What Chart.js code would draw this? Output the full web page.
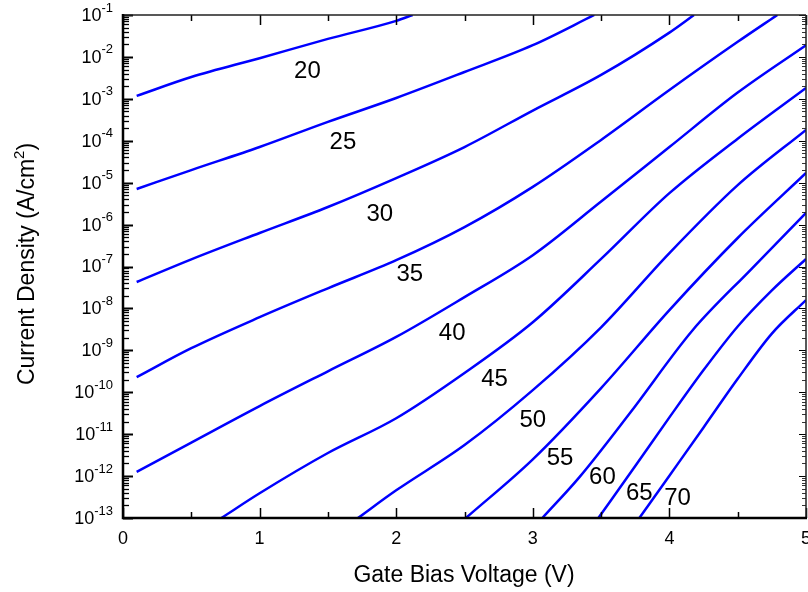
<!DOCTYPE html>
<html>
<head>
<meta charset="utf-8">
<script src="https://cdn.jsdelivr.net/npm/chart.js@4.4.1/dist/chart.umd.min.js"></script>
<style>
  body { margin: 0; background: #fff; }
  #wrap { width: 808px; height: 592px; }
</style>
</head>
<body>
<div id="wrap"><canvas id="chart" width="808" height="592"></canvas></div>
<script>
// gate bias (V) and log10 of current density (A/cm2), one pair per curve
const v20 = [0.1, 0.5, 1.0, 1.5, 2.0, 2.12];
const j20 = [-2.93, -2.48, -2.03, -1.57, -1.14, -1];
const v25 = [0.1, 0.5, 1.0, 1.5, 2.0, 2.5, 3.0, 3.45];
const j25 = [-5.15, -4.70, -4.15, -3.55, -2.98, -2.36, -1.72, -1];
const v30 = [0.1, 0.5, 1.0, 1.5, 2.0, 2.5, 3.0, 3.5, 4.0, 4.18];
const j30 = [-7.37, -6.83, -6.20, -5.58, -4.89, -4.15, -3.28, -2.43, -1.42, -1];
const v35 = [0.1, 0.5, 1.0, 1.5, 2.0, 2.5, 3.0, 3.5, 4.0, 4.5, 4.79];
const j35 = [-9.64, -8.95, -8.21, -7.52, -6.85, -6.06, -5.10, -3.98, -2.79, -1.64, -1];
const v40 = [0.1, 0.5, 1.0, 1.5, 2.0, 2.5, 3.0, 3.5, 4.0, 4.5, 5.0];
const j40 = [-11.9, -11.2, -10.33, -9.50, -8.68, -7.73, -6.73, -5.45, -4.15, -2.85, -1.72];
const v45 = [0.72, 1.0, 1.5, 2.0, 2.5, 3.0, 3.5, 4.0, 4.5, 5.0];
const j45 = [-13, -12.41, -11.45, -10.62, -9.54, -8.33, -6.82, -5.25, -3.95, -2.74];
const v50 = [1.72, 2.0, 2.5, 3.0, 3.5, 4.0, 4.5, 5.0];
const j50 = [-13, -12.34, -11.26, -9.95, -8.45, -6.68, -5.06, -3.74];
const v55 = [2.51, 3.0, 3.5, 4.0, 4.5, 5.0];
const j55 = [-13, -11.6, -9.9, -8.04, -6.32, -4.77];
const v60 = [3.07, 3.34, 3.71, 4.17, 4.6, 5.0];
const j60 = [-13, -12.03, -10.50, -8.52, -7.06, -5.72];
const v65 = [3.48, 3.75, 4.0, 4.25, 4.5, 4.75, 5.0];
const j65 = [-13, -11.76, -10.6, -9.47, -8.43, -7.57, -6.82];
const v70 = [3.78, 4.0, 4.25, 4.5, 4.75, 5.0];
const j70 = [-13, -11.99, -10.84, -9.68, -8.6, -7.80];

const curves = [
    [v20, j20], [v25, j25], [v30, j30], [v35, j35], [v40, j40], [v45, j45],
    [v50, j50], [v55, j55], [v60, j60], [v65, j65], [v70, j70]
];

// curve labels (V, log10 J)
const labelText = ['20', '25', '30', '35', '40', '45', '50', '55', '60', '65', '70'];
const labelV = [1.35, 1.61, 1.88, 2.10, 2.41, 2.72, 3.00, 3.20, 3.51, 3.78, 4.06];
const labelJ = [-2.31, -4.01, -5.73, -7.16, -8.57, -9.66, -10.64, -11.55, -12.00, -12.38, -12.50];

const xTicks = [0, 1, 2, 3, 4, 5];
const yDecades = [-13, -12, -11, -10, -9, -8, -7, -6, -5, -4, -3, -2, -1];

const FONT = '"Liberation Sans", Arial, Helvetica, sans-serif';

const datasets = curves.map(([v, j]) => ({
    data: v.map((x, i) => ({ x: x, y: Math.pow(10, j[i]) })),
    borderColor: '#0000ff',
    borderWidth: 2.5,
    pointRadius: 0,
    fill: false,
    cubicInterpolationMode: 'monotone'
}));

// frame, inside ticks, tick labels, titles and curve labels
const decorations = {
    id: 'decorations',
    afterDraw(chart) {
        const ctx = chart.ctx;
        const xs = chart.scales.x, ys = chart.scales.y;
        const a = chart.chartArea;
        ctx.save();
        ctx.strokeStyle = '#000';
        ctx.lineCap = 'butt';

        // x ticks every 0.5 V, top and bottom, pointing in
        for (let k = 0; k <= 10; k++) {
            const v = k / 2;
            const px = Math.round(xs.getPixelForValue(v)) + 0.5;
            const len = k % 2 === 0 ? 10 : 6;
            ctx.lineWidth = 1.5;
            ctx.beginPath();
            ctx.moveTo(px, a.bottom); ctx.lineTo(px, a.bottom - len);
            ctx.moveTo(px, a.top); ctx.lineTo(px, a.top + len);
            ctx.stroke();
        }

        // y ticks, decades and minor
        yDecades.forEach(d => {
            const py = Math.round(ys.getPixelForValue(Math.pow(10, d))) + 0.5;
            ctx.lineWidth = 2;
            ctx.beginPath();
            ctx.moveTo(a.left, py); ctx.lineTo(a.left + 10, py);
            ctx.stroke();
            ctx.lineWidth = 1;
            ctx.beginPath();
            ctx.moveTo(a.right, py); ctx.lineTo(a.right - 7, py);
            ctx.stroke();
            if (d < -1) {
                for (let m = 2; m <= 9; m++) {
                    const pm = Math.round(ys.getPixelForValue(m * Math.pow(10, d))) + 0.5;
                    ctx.lineWidth = 1.3;
                    ctx.beginPath();
                    ctx.moveTo(a.left, pm); ctx.lineTo(a.left + 6, pm);
                    ctx.stroke();
                    ctx.lineWidth = 0.8;
                    ctx.beginPath();
                    ctx.moveTo(a.right, pm); ctx.lineTo(a.right - 4, pm);
                    ctx.stroke();
                }
            }
        });

        // frame
        ctx.lineWidth = 1.5;
        ctx.strokeStyle = '#222';
        ctx.beginPath();
        ctx.moveTo(a.left, a.top); ctx.lineTo(a.right, a.top);
        ctx.moveTo(a.right, a.top); ctx.lineTo(a.right, a.bottom);
        ctx.stroke();
        ctx.strokeStyle = '#000';
        ctx.lineWidth = 2.5;
        ctx.beginPath();
        ctx.moveTo(a.left, a.top - 1); ctx.lineTo(a.left, a.bottom);
        ctx.lineTo(a.right + 1, a.bottom);
        ctx.stroke();

        ctx.fillStyle = '#000';

        // x tick labels
        ctx.font = '18px ' + FONT;
        ctx.textAlign = 'center';
        ctx.textBaseline = 'middle';
        xTicks.forEach(v => {
            ctx.fillText(String(v), xs.getPixelForValue(v), 539);
        });

        // y tick labels as 10^d
        yDecades.forEach(d => {
            const py = ys.getPixelForValue(Math.pow(10, d));
            const exp = String(d);
            ctx.font = '18px ' + FONT;
            const wb = ctx.measureText('10').width;
            ctx.font = '13px ' + FONT;
            const we = ctx.measureText(exp).width;
            const x0 = 113 - wb - we;
            ctx.textAlign = 'left';
            ctx.textBaseline = 'middle';
            ctx.font = '18px ' + FONT;
            ctx.fillText('10', x0, py + 1);
            ctx.font = '13px ' + FONT;
            ctx.fillText(exp, x0 + wb, py - 7);
        });

        // x title
        ctx.font = '23px ' + FONT;
        ctx.textAlign = 'center';
        ctx.textBaseline = 'alphabetic';
        ctx.fillText('Gate Bias Voltage (V)', 464, 582);

        // y title with superscript
        const t1 = 'Current Density (A/cm', t2 = '2', t3 = ')';
        ctx.font = '23px ' + FONT;
        const w1 = ctx.measureText(t1).width, w3 = ctx.measureText(t3).width;
        ctx.font = '15px ' + FONT;
        const w2 = ctx.measureText(t2).width;
        const total = w1 + w2 + w3;
        ctx.save();
        ctx.translate(34, 264);
        ctx.rotate(-Math.PI / 2);
        ctx.textAlign = 'left';
        let sx = -total / 2;
        ctx.font = '23px ' + FONT;
        ctx.fillText(t1, sx, 0);
        sx += w1;
        ctx.font = '15px ' + FONT;
        ctx.fillText(t2, sx, -10);
        sx += w2;
        ctx.font = '23px ' + FONT;
        ctx.fillText(t3, sx, 0);
        ctx.restore();

        // curve labels
        ctx.font = '24px ' + FONT;
        ctx.textAlign = 'center';
        ctx.textBaseline = 'middle';
        labelText.forEach((t, i) => {
            ctx.fillText(t, xs.getPixelForValue(labelV[i]), ys.getPixelForValue(Math.pow(10, labelJ[i])) + 1);
        });
        ctx.restore();
    }
};

new Chart(document.getElementById('chart'), {
    type: 'line',
    data: { datasets: datasets },
    options: {
        responsive: false,
        animation: false,
        layout: { padding: { left: 123, right: 2, top: 15, bottom: 74 } },
        plugins: { legend: { display: false }, tooltip: { enabled: false } },
        scales: {
            x: { type: 'linear', min: 0, max: 5, display: false },
            y: { type: 'logarithmic', min: 1e-13, max: 1e-1, display: false }
        }
    },
    plugins: [decorations]
});
</script>
</body>
</html>
